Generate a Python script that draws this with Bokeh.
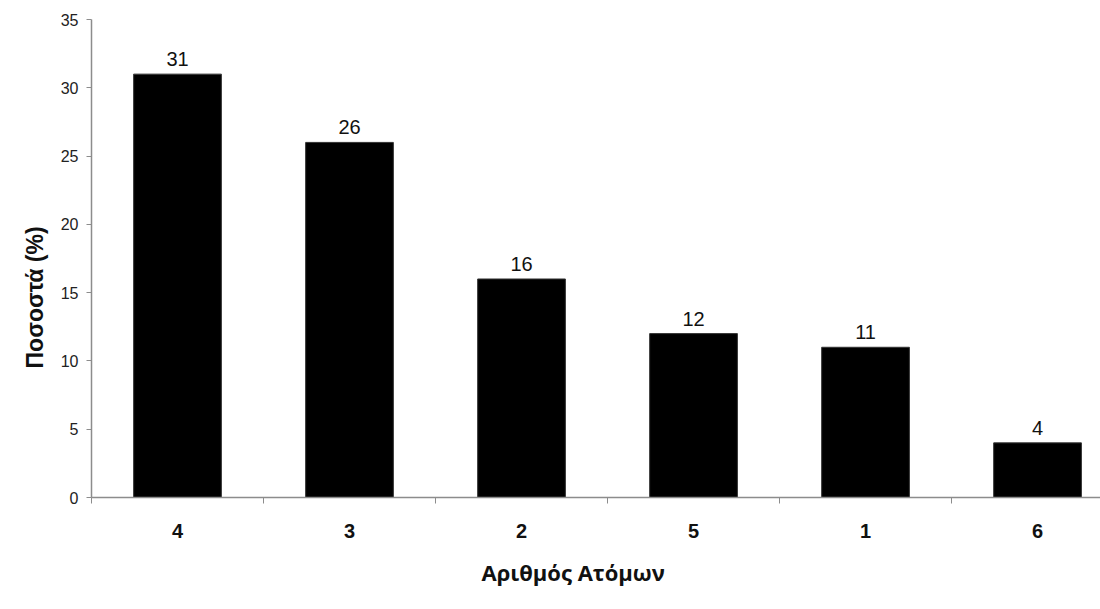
from bokeh.plotting import figure
from bokeh.models import Range1d, FixedTicker, Title, ColumnDataSource
from bokeh.core.properties import value
from bokeh.embed import file_html
from bokeh.resources import INLINE

categories = ["4", "3", "2", "5", "1", "6"]
percent = [31, 26, 16, 12, 11, 4]
y_ticks = [0, 5, 10, 15, 20, 25, 30, 35]
x_title = "Αριθμός Ατόμων"
y_title = "Ποσοστά (%)"

xpos = [i + 0.5 for i in range(len(categories))]
src = ColumnDataSource(dict(x=xpos, top=percent, lab=[str(v) for v in percent]))

p = figure(width=1100, height=600, output_backend="svg", toolbar_location=None,
           x_range=Range1d(0, 5.866), y_range=Range1d(0, 35),
           min_border_left=91, min_border_right=0, min_border_top=19, min_border_bottom=101)
p.outline_line_color = None
p.xgrid.grid_line_color = None
p.ygrid.grid_line_color = None
p.background_fill_color = "white"
p.border_fill_color = "white"

p.vbar(x="x", top="top", width=0.51, bottom=0, source=src,
       fill_color="black", line_color="#333333", line_width=1)
p.text(x="x", y="top", text="lab", source=src, text_align="center",
       text_baseline="bottom", y_offset=-8,
       text_font=value("Liberation Sans"), text_font_size="20px", text_color="#111111")

# y axis
ya = p.yaxis[0]
ya.ticker = FixedTicker(ticks=y_ticks, minor_ticks=[])
ya.axis_line_color = "#8c8c8c"
ya.axis_line_width = 1.5
ya.major_tick_line_color = "#8c8c8c"
ya.major_tick_out = 5
ya.major_tick_in = 0
ya.minor_tick_line_color = None
ya.major_label_standoff = 8
ya.major_label_text_font = "Liberation Sans"
ya.major_label_text_font_size = "16px"
ya.major_label_text_color = "#222222"

# x axis
xa = p.xaxis[0]
xa.ticker = FixedTicker(ticks=xpos, minor_ticks=list(range(len(categories) + 1)))
xa.major_label_overrides = {x: c for x, c in zip(xpos, categories)}
xa.axis_line_color = "#8c8c8c"
xa.axis_line_width = 1.5
xa.major_tick_line_color = None
xa.major_tick_out = 5
xa.major_tick_in = 0
xa.minor_tick_line_color = "#8c8c8c"
xa.minor_tick_out = 6
xa.minor_tick_in = 0
xa.major_label_standoff = 20
xa.major_label_text_font = "Liberation Sans"
xa.major_label_text_font_style = "bold"
xa.major_label_text_font_size = "20px"
xa.major_label_text_color = "#111111"

# axis titles as side titles
p.add_layout(Title(text=x_title, align="left", offset=390, standoff=28,
                   text_font="Open Sans", text_font_style="bold", text_font_size="22px",
                   text_color="#111111"), "below")
p.add_layout(Title(text=y_title, align="left", offset=129, standoff=20,
                   text_font="Liberation Sans", text_font_style="bold", text_font_size="23px",
                   text_color="#111111"), "left")

open("out.html", "w").write(file_html(p, INLINE))
